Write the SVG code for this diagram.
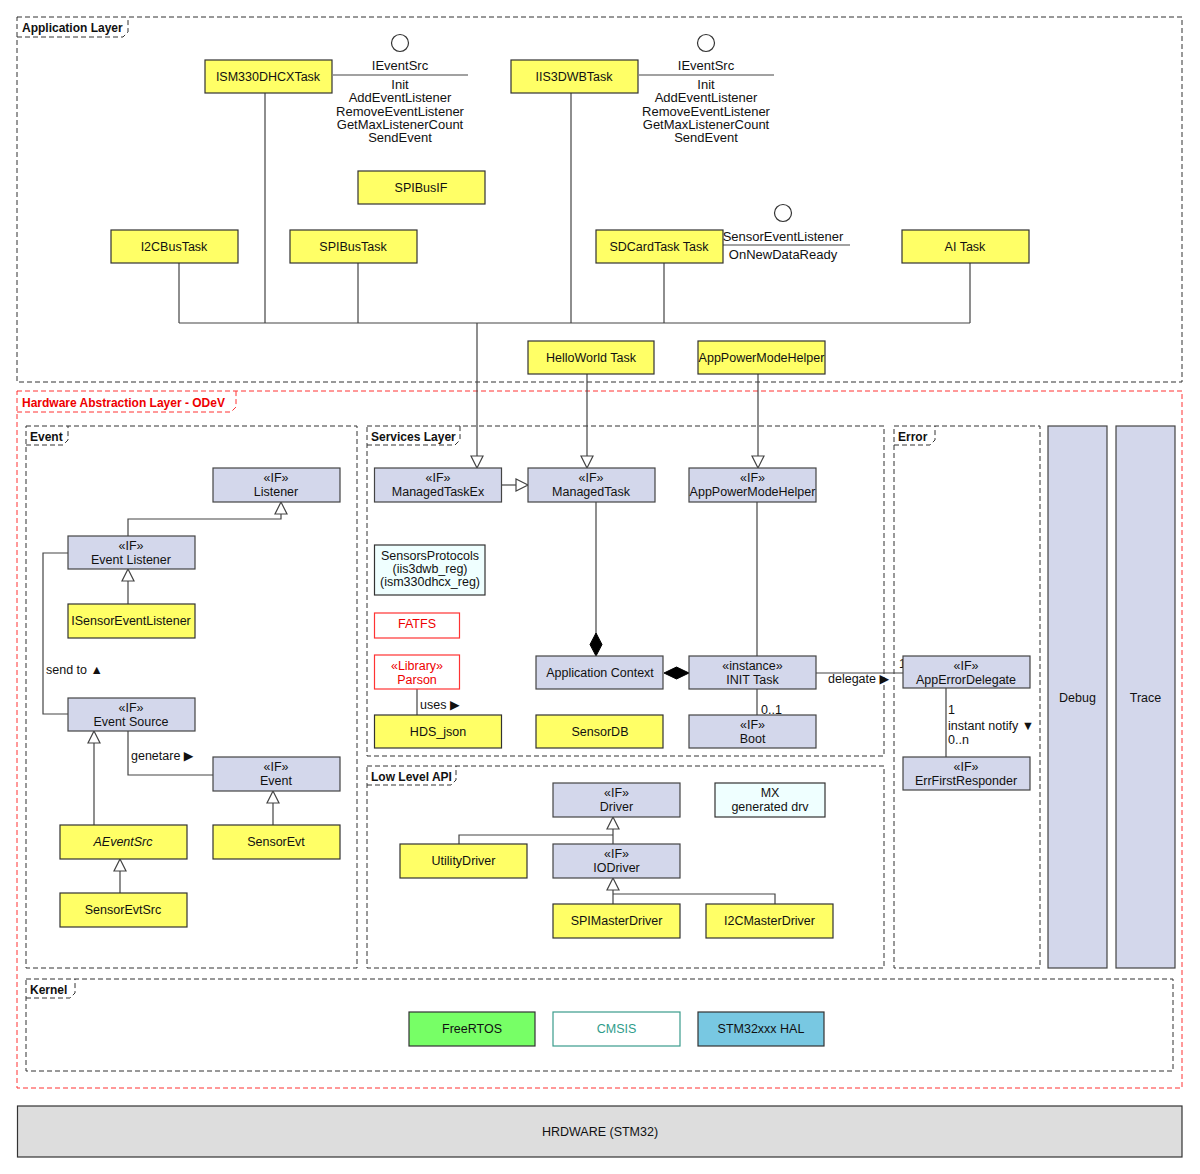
<svg xmlns="http://www.w3.org/2000/svg" width="1200" height="1174" viewBox="0 0 1200 1174">
<defs>
<style>
.t{font-family:"Liberation Sans","DejaVu Sans",Arial,sans-serif;font-size:12.5px;fill:#111;text-anchor:middle}
.m{font-family:"Liberation Sans","DejaVu Sans",Arial,sans-serif;font-size:13px;fill:#111;text-anchor:middle}
.l{font-family:"Liberation Sans","DejaVu Sans",Arial,sans-serif;font-size:12.5px;fill:#111}
.b{font-family:"Liberation Sans","DejaVu Sans",Arial,sans-serif;font-size:12px;font-weight:bold;fill:#111}
.y{fill:#FFFF66;stroke:#333;stroke-width:1.2}
.if{fill:#D3D7EB;stroke:#444;stroke-width:1.2}
.az{fill:#EFFFFF;stroke:#333;stroke-width:1.2}
.fr{fill:none;stroke:#333;stroke-width:1;stroke-dasharray:5 3}
.frr{fill:none;stroke:#F33;stroke-width:1;stroke-dasharray:5 3}
.ln{fill:none;stroke:#444;stroke-width:1.2}
.tri{fill:#fff;stroke:#444;stroke-width:1.2}
.dia{fill:#000;stroke:#000}
</style>
</defs>
<rect width="1200" height="1174" fill="#fff"/>

<!-- Frames -->
<g id="frames">
<rect class="fr" x="17" y="17" width="1165" height="365"/>
<path class="fr" d="M17,37 H123 L128,32 V17"/>
<text class="b" x="22" y="32">Application Layer</text>

<rect class="frr" x="17" y="391" width="1165" height="697"/>
<path class="frr" d="M17,412 H231 L236,407 V391"/>
<text class="b" x="22" y="407" style="fill:#E00">Hardware Abstraction Layer - ODeV</text>

<rect class="fr" x="26" y="426" width="331" height="542"/>
<path class="fr" d="M26,445 H63 L68,440 V426"/>
<text class="b" x="30" y="441">Event</text>

<rect class="fr" x="367" y="426" width="517" height="330"/>
<path class="fr" d="M367,445 H455 L460,440 V426"/>
<text class="b" x="371" y="441">Services Layer</text>

<rect class="fr" x="367" y="766" width="517" height="202"/>
<path class="fr" d="M367,785 H451 L456,780 V766"/>
<text class="b" x="371" y="781">Low Level API</text>

<rect class="fr" x="894" y="426" width="146" height="542"/>
<path class="fr" d="M894,445 H930 L935,440 V426"/>
<text class="b" x="898" y="441">Error</text>

<rect class="fr" x="26" y="979" width="1147" height="92"/>
<path class="fr" d="M26,998 H70 L75,993 V979"/>
<text class="b" x="30" y="994">Kernel</text>
</g>

<!-- Connectors -->
<g id="connectors">
<path class="ln" d="M179,323 H970"/>
<path class="ln" d="M179,263 V323 M265,93 V323 M358,263 V323 M571,93 V323 M664,263 V323 M970,263 V323"/>
<path class="ln" d="M477,323 V468"/>
<polygon class="tri" points="477,468 471,456 483,456"/>
<path class="ln" d="M587,374 V468"/>
<polygon class="tri" points="587,468 581,456 593,456"/>
<path class="ln" d="M758,374 V468"/>
<polygon class="tri" points="758,468 752,456 764,456"/>

<path class="ln" d="M333,75 H468"/>
<circle cx="400" cy="43" r="8.5" fill="#fff" stroke="#333" stroke-width="1.2"/>
<path class="ln" d="M639,75 H774"/>
<circle cx="706" cy="43" r="8.5" fill="#fff" stroke="#333" stroke-width="1.2"/>
<path class="ln" d="M716,245 H850"/>
<circle cx="783" cy="213" r="8.5" fill="#fff" stroke="#333" stroke-width="1.2"/>

<path class="ln" d="M128,537 V519 H281 V514"/>
<polygon class="tri" points="281,502 275,514 287,514"/>
<path class="ln" d="M128,604 V581"/>
<polygon class="tri" points="128,569 122,581 134,581"/>
<path class="ln" d="M68,553 H43 V714 H68"/>
<path class="ln" d="M128,731 V775 H213"/>
<path class="ln" d="M94,825 V743"/>
<polygon class="tri" points="94,731 88,743 100,743"/>
<path class="ln" d="M273,825 V803"/>
<polygon class="tri" points="273,791 267,803 279,803"/>
<path class="ln" d="M120,893 V871"/>
<polygon class="tri" points="120,859 114,871 126,871"/>

<path class="ln" d="M502,485 H516"/>
<polygon class="tri" points="528,485 516,479 516,491"/>
<path class="ln" d="M596,502 V640"/>
<polygon class="dia" points="596,633 602,644.5 596,656 590,644.5"/>
<path class="ln" d="M677,673 H689"/>
<polygon class="dia" points="664,673 676.5,667 689,673 676.5,679"/>
<path class="ln" d="M757,502 V656"/>
<path class="ln" d="M757,689 V715"/>
<path class="ln" d="M417,689 V715"/>
<path class="ln" d="M816,673 H903"/>

<path class="ln" d="M946,688 V757"/>

<path class="ln" d="M613,844 V829"/>
<polygon class="tri" points="613,817 607,829 619,829"/>
<path class="ln" d="M459,844 V835 H613"/>
<path class="ln" d="M613,904 V890"/>
<polygon class="tri" points="613,878 607,890 619,890"/>
<path class="ln" d="M775,904 V894 H613"/>
</g>

<g id="labels">
<text class="m" x="400" y="70">IEventSrc</text>
<text class="m" x="400" y="89">Init</text>
<text class="m" x="400" y="102">AddEventListener</text>
<text class="m" x="400" y="116">RemoveEventListener</text>
<text class="m" x="400" y="129">GetMaxListenerCount</text>
<text class="m" x="400" y="142">SendEvent</text>
<text class="m" x="706" y="70">IEventSrc</text>
<text class="m" x="706" y="89">Init</text>
<text class="m" x="706" y="102">AddEventListener</text>
<text class="m" x="706" y="116">RemoveEventListener</text>
<text class="m" x="706" y="129">GetMaxListenerCount</text>
<text class="m" x="706" y="142">SendEvent</text>
<text class="m" x="783" y="241">SensorEventListener</text>
<text class="m" x="783" y="259">OnNewDataReady</text>
<text class="l" x="46" y="674">send to ▲</text>
<text class="l" x="131" y="760">genetare ▶</text>
<text class="l" x="420" y="709">uses ▶</text>
<text class="l" x="761" y="714">0..1</text>
<text class="l" x="828" y="683">delegate ▶</text>
<text class="l" x="899" y="668">1</text>
<text class="l" x="948" y="714">1</text>
<text class="l" x="948" y="730">instant notify ▼</text>
<text class="l" x="948" y="744">0..n</text>
</g>

<g id="ISM330DHCXTask"><rect class="y" x="205" y="60" width="127" height="33"/><text class="t" x="268" y="81">ISM330DHCXTask</text></g>
<g id="IIS3DWBTask"><rect class="y" x="511" y="60" width="127" height="33"/><text class="t" x="574" y="81">IIS3DWBTask</text></g>
<g id="SPIBusIF"><rect class="y" x="358" y="171" width="127" height="33"/><text class="t" x="421" y="192">SPIBusIF</text></g>
<g id="I2CBusTask"><rect class="y" x="111" y="230" width="127" height="33"/><text class="t" x="174" y="251">I2CBusTask</text></g>
<g id="SPIBusTask"><rect class="y" x="290" y="230" width="127" height="33"/><text class="t" x="353" y="251">SPIBusTask</text></g>
<g id="SDCardTask"><rect class="y" x="596" y="230" width="127" height="33"/><text class="t" x="659" y="251">SDCardTask Task</text></g>
<g id="AITask"><rect class="y" x="902" y="230" width="127" height="33"/><text class="t" x="965" y="251">AI Task</text></g>
<g id="HelloWorldTask"><rect class="y" x="528" y="341" width="126" height="33"/><text class="t" x="591" y="362">HelloWorld Task</text></g>
<g id="AppPowerModeHelperTask"><rect class="y" x="698" y="341" width="127" height="33"/><text class="t" x="761.5" y="362">AppPowerModeHelper</text></g>

<g id="Listener"><rect class="if" x="213" y="468" width="127" height="34"/><text class="t" x="276" y="482">«IF»</text><text class="t" x="276" y="496">Listener</text></g>
<g id="EventListener"><rect class="if" x="68" y="536" width="127" height="33"/><text class="t" x="131" y="550">«IF»</text><text class="t" x="131" y="564">Event Listener</text></g>
<g id="ISensorEventListener"><rect class="y" x="68" y="604" width="127" height="34"/><text class="t" x="131" y="625">ISensorEventListener</text></g>
<g id="EventSource"><rect class="if" x="68" y="698" width="127" height="33"/><text class="t" x="131" y="712">«IF»</text><text class="t" x="131" y="726">Event Source</text></g>
<g id="Event"><rect class="if" x="213" y="757" width="127" height="34"/><text class="t" x="276" y="771">«IF»</text><text class="t" x="276" y="785">Event</text></g>
<g id="AEventSrc"><rect class="y" x="60" y="825" width="127" height="34"/><text class="t" x="123" y="846" font-style="italic">AEventSrc</text></g>
<g id="SensorEvt"><rect class="y" x="213" y="825" width="127" height="34"/><text class="t" x="276" y="846">SensorEvt</text></g>
<g id="SensorEvtSrc"><rect class="y" x="60" y="893" width="127" height="34"/><text class="t" x="123" y="914">SensorEvtSrc</text></g>

<g id="ManagedTaskEx"><rect class="if" x="374.5" y="468" width="127" height="34"/><text class="t" x="438" y="482">«IF»</text><text class="t" x="438" y="496">ManagedTaskEx</text></g>
<g id="ManagedTask"><rect class="if" x="528" y="468" width="127" height="34"/><text class="t" x="591" y="482">«IF»</text><text class="t" x="591" y="496">ManagedTask</text></g>
<g id="AppPowerModeHelperIF"><rect class="if" x="689" y="468" width="127" height="34"/><text class="t" x="752.5" y="482">«IF»</text><text class="t" x="752.5" y="496">AppPowerModeHelper</text></g>
<g id="SensorsProtocols"><rect class="az" x="374.5" y="545" width="110.5" height="50"/><text class="t" x="430" y="560">SensorsProtocols</text><text class="t" x="430" y="573">(iis3dwb_reg)</text><text class="t" x="430" y="586">(ism330dhcx_reg)</text></g>
<g id="FATFS"><rect x="374.5" y="613" width="85" height="25" fill="#fff" stroke="#F33" stroke-width="1.2"/><text class="t" x="417" y="628" style="fill:#E00">FATFS</text></g>
<g id="Parson"><rect x="374.5" y="655" width="85" height="34" fill="#fff" stroke="#F33" stroke-width="1.2"/><text class="t" x="417" y="670" style="fill:#E00">«Library»</text><text class="t" x="417" y="684" style="fill:#E00">Parson</text></g>
<g id="HDS_json"><rect class="y" x="374.5" y="715" width="127" height="33"/><text class="t" x="438" y="736">HDS_json</text></g>
<g id="ApplicationContext"><rect class="if" x="536" y="656" width="127" height="33"/><text class="t" x="600" y="677">Application Context</text></g>
<g id="INITTask"><rect class="if" x="689" y="656" width="127" height="33"/><text class="t" x="752.5" y="670">«instance»</text><text class="t" x="752.5" y="684">INIT Task</text></g>
<g id="SensorDB"><rect class="y" x="536" y="715" width="127" height="33"/><text class="t" x="600" y="736">SensorDB</text></g>
<g id="Boot"><rect class="if" x="689" y="715" width="127" height="33"/><text class="t" x="752.5" y="729">«IF»</text><text class="t" x="752.5" y="743">Boot</text></g>

<g id="AppErrorDelegate"><rect class="if" x="903" y="656" width="127" height="32"/><text class="t" x="966" y="670">«IF»</text><text class="t" x="966" y="684">AppErrorDelegate</text></g>
<g id="ErrFirstResponder"><rect class="if" x="903" y="757" width="127" height="33"/><text class="t" x="966" y="771">«IF»</text><text class="t" x="966" y="785">ErrFirstResponder</text></g>

<g id="Debug"><rect class="if" x="1048" y="426" width="59" height="542"/><text class="t" x="1077.5" y="702">Debug</text></g>
<g id="Trace"><rect class="if" x="1116" y="426" width="59" height="542"/><text class="t" x="1145.5" y="702">Trace</text></g>

<g id="Driver"><rect class="if" x="553" y="783" width="127" height="34"/><text class="t" x="616.5" y="797">«IF»</text><text class="t" x="616.5" y="811">Driver</text></g>
<g id="MX"><rect class="az" x="715" y="783" width="110" height="34"/><text class="t" x="770" y="797">MX</text><text class="t" x="770" y="811">generated drv</text></g>
<g id="UtilityDriver"><rect class="y" x="400" y="844" width="127" height="34"/><text class="t" x="463.5" y="865">UtilityDriver</text></g>
<g id="IODriver"><rect class="if" x="553" y="844" width="127" height="34"/><text class="t" x="616.5" y="858">«IF»</text><text class="t" x="616.5" y="872">IODriver</text></g>
<g id="SPIMasterDriver"><rect class="y" x="553" y="904" width="127" height="34"/><text class="t" x="616.5" y="925">SPIMasterDriver</text></g>
<g id="I2CMasterDriver"><rect class="y" x="706" y="904" width="127" height="34"/><text class="t" x="769.5" y="925">I2CMasterDriver</text></g>

<g id="FreeRTOS"><rect x="409" y="1012" width="126" height="34" fill="#77FF66" stroke="#333" stroke-width="1.2"/><text class="t" x="472" y="1033">FreeRTOS</text></g>
<g id="CMSIS"><rect x="553" y="1012" width="127" height="34" fill="#fff" stroke="#3A9C8C" stroke-width="1.2"/><text class="t" x="616.5" y="1033" style="fill:#2E9C8A">CMSIS</text></g>
<g id="STM32HAL"><rect x="698" y="1012" width="126" height="34" fill="#78C8E2" stroke="#333" stroke-width="1.2"/><text class="t" x="761" y="1033">STM32xxx HAL</text></g>

<g id="Hardware"><rect x="17.5" y="1106" width="1164.5" height="51" fill="#DDDDDD" stroke="#333" stroke-width="1.2"/><text class="t" x="600" y="1136">HRDWARE (STM32)</text></g>
</svg>
